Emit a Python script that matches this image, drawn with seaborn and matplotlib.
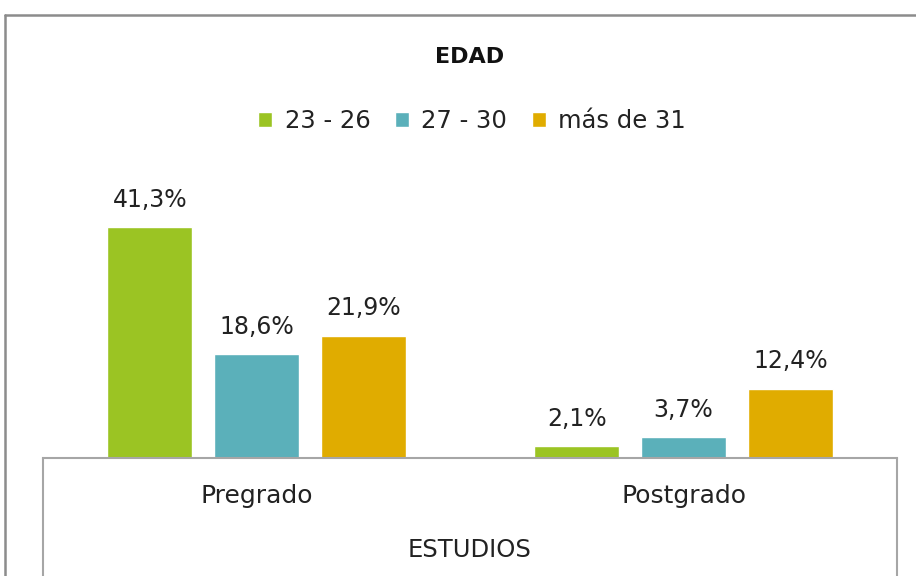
import matplotlib
matplotlib.use("Agg")
import matplotlib.pyplot as plt
import seaborn as sns
import pandas as pd
from matplotlib.lines import Line2D

estudios = ['Pregrado', 'Postgrado']
edades = ['23 - 26', '27 - 30', 'más de 31']
val_23_26 = [41.3, 2.1]
val_27_30 = [18.6, 3.7]
val_31 = [21.9, 12.4]
colores = ['#9BC423', '#5BB0BA', '#E0AC00']

df = pd.DataFrame({
    'Estudios': estudios * 3,
    'Edad': [e for e in edades for _ in estudios],
    'Valor': val_23_26 + val_27_30 + val_31,
})

sns.set_style('white')
plt.rcParams['font.family'] = ['DejaVu Sans']

W, H = 916, 576
fig = plt.figure(figsize=(W / 100, H / 100), dpi=100)
base = 458
ymax = 45
ax_h = 251.6
ax = fig.add_axes([43 / W, (H - base) / H, 854 / W, ax_h / H])

sns.barplot(data=df, x='Estudios', y='Valor', hue='Edad', order=estudios,
            hue_order=edades, palette=colores, width=0.75, gap=0.2,
            saturation=1, ax=ax)
ax.set_ylim(0, ymax)
ax.set_yticks([])
ax.set_ylabel('')

for cont in ax.containers:
    etiquetas = [f'{v:.1f}%'.replace('.', ',') for v in cont.datavalues]
    ax.bar_label(cont, labels=etiquetas, padding=11, fontsize=17, color='#222222')

for s in ['left', 'right', 'top']:
    ax.spines[s].set_visible(False)
ax.spines['bottom'].set_color('#A6A6A6')
ax.spines['bottom'].set_linewidth(1.5)
ax.tick_params(axis='x', length=0, pad=19, labelsize=18, labelcolor='#222222')

ax.set_xlabel('ESTUDIOS', fontsize=17.5, color='#222222')
ax.xaxis.label.set_va('center')
ax.xaxis.set_label_coords(0.5, -(550 - base) / ax_h)

handles, labels = ax.get_legend_handles_labels()
ax.get_legend().remove()
fig.legend(handles, labels, loc='center', ncol=3, frameon=False,
           bbox_to_anchor=(472 / W, 1 - 121 / H), fontsize=17.5,
           handlelength=0.6, handleheight=0.6, handletextpad=0.5,
           columnspacing=1.0, labelcolor='#222222')

fig.text(470 / W, 1 - 57 / H, 'EDAD', ha='center', va='center',
         fontsize=16, fontweight='bold', color='#111111')

# marco del gráfico y líneas de la tabla del eje
gris = '#8C8C8C'
fig.add_artist(Line2D([5 / W, 1], [1 - 15 / H] * 2, color=gris, lw=1.8))
fig.add_artist(Line2D([5 / W] * 2, [0, 1 - 15 / H], color=gris, lw=1.8))
for xp in [43, 897]:
    fig.add_artist(Line2D([xp / W] * 2, [0, (H - base) / H], color='#A6A6A6', lw=1.5))

fig.savefig('out.png', dpi=100)
